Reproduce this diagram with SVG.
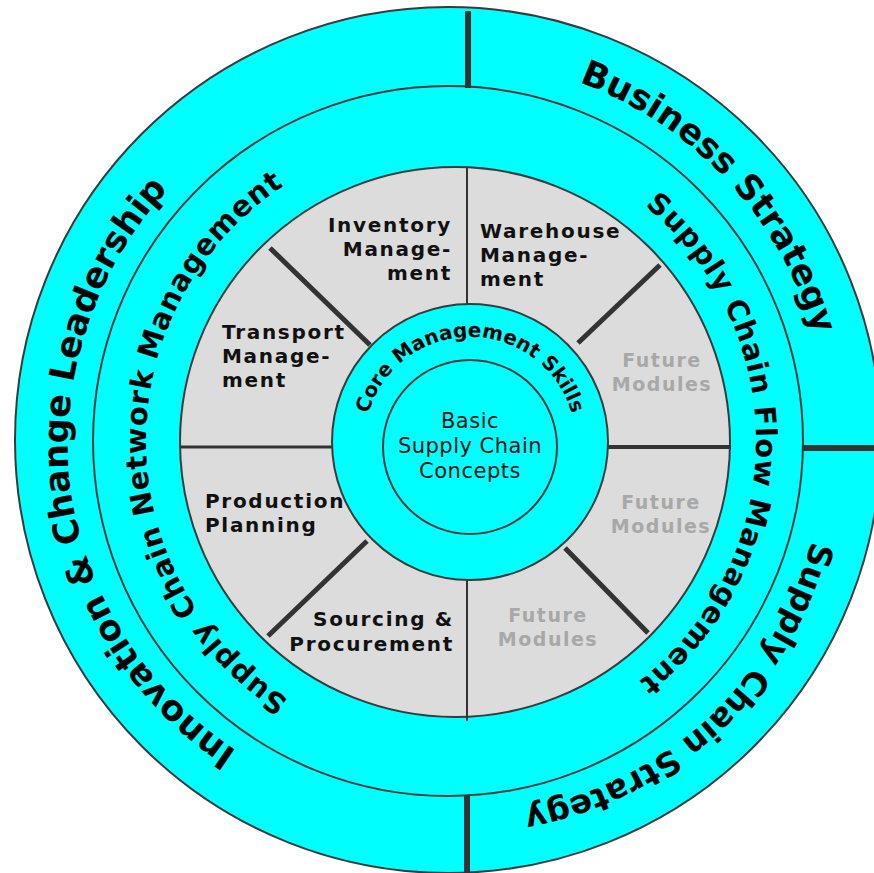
<svg xmlns="http://www.w3.org/2000/svg" xmlns:xlink="http://www.w3.org/1999/xlink" width="874" height="873" viewBox="0 0 874 873">
<style>
.ring{fill:#00ffff;stroke:#3a3a3a;stroke-width:2}
.wheel{fill:#dcdcdc;stroke:#3a3a3a;stroke-width:2}
.lbl{font-family:"DejaVu Sans","Liberation Sans",sans-serif;font-weight:bold;font-size:20px;letter-spacing:1.7px;fill:#111}
.fut{font-family:"DejaVu Sans","Liberation Sans",sans-serif;font-weight:bold;font-size:19px;letter-spacing:1.5px;fill:#a8a8a8}
.outer{font-family:"DejaVu Sans","Liberation Sans",sans-serif;font-weight:bold;font-size:35px;fill:#000}
.mid{font-family:"DejaVu Sans","Liberation Sans",sans-serif;font-weight:bold;font-size:29px;letter-spacing:0.8px;fill:#000}
.core{font-family:"DejaVu Sans","Liberation Sans",sans-serif;font-weight:bold;font-size:20px;fill:#000}
.basic{font-family:"DejaVu Sans","Liberation Sans",sans-serif;font-size:21px;letter-spacing:0.5px;fill:#111}
.div{stroke:#333;fill:none}
</style>
<defs>
<path id="pBus" d="M169.3,699.8 A381,381 0 0 1 726.7,180.2 A381,381 0 0 1 169.3,699.8"/>
<path id="pSCS" d="M188.2,161.4 A381,381 0 0 1 707.8,718.6 A381,381 0 0 1 188.2,161.4"/>
<path id="pInn" d="M826.1,393.6 A381,381 0 0 1 69.9,486.4 A381,381 0 0 1 826.1,393.6"/>
<path id="pNet" d="M756,438.3 A305,305 0 0 1 146,443.7 A305,305 0 0 1 756,438.3"/>
<path id="pFlow" d="M146,436.7 A305,305 0 0 1 756,445.3 A305,305 0 0 1 146,436.7"/>
<path id="pCore" d="M470,549 A106,106 0 0 1 470,337 A106,106 0 0 1 470,549"/>
</defs>
<g id="outer-ring">
<circle class="ring" cx="448" cy="440" r="433"/>
<text class="outer"><textPath xlink:href="#pInn" startOffset="50%" text-anchor="middle">Innovation &amp; Change Leadership</textPath></text>
<text class="outer"><textPath xlink:href="#pBus" startOffset="50%" text-anchor="middle">Business Strategy</textPath></text>
<text class="outer" style="font-size:33px"><textPath xlink:href="#pSCS" startOffset="50%" text-anchor="middle">Supply Chain Strategy</textPath></text>
</g>
<g id="middle-ring">
<circle class="ring" cx="448" cy="441" r="355"/>
<text class="mid"><textPath xlink:href="#pNet" startOffset="50%" text-anchor="middle">Supply Chain Network Management</textPath></text>
<text class="mid"><textPath xlink:href="#pFlow" startOffset="50%" text-anchor="middle">Supply Chain Flow Management</textPath></text>
</g>
<g id="module-wheel">
<circle class="wheel" cx="455" cy="442" r="275"/>
</g>
<g id="connectors">
<line class="div" x1="468" y1="11" x2="468" y2="88" stroke-width="6"/>
<line class="div" x1="467" y1="795" x2="467" y2="873" stroke-width="6"/>
<line class="div" x1="803" y1="448" x2="874" y2="448" stroke-width="6"/>
<line class="div" x1="467" y1="168" x2="467" y2="306" stroke-width="2"/>
<line class="div" x1="467" y1="578" x2="467" y2="721" stroke-width="2"/>
<line class="div" x1="180" y1="447" x2="334" y2="447" stroke-width="3"/>
<line class="div" x1="606" y1="447" x2="731" y2="447" stroke-width="4"/>
<line class="div" x1="270" y1="248" x2="370" y2="345" stroke-width="5"/>
<line class="div" x1="660" y1="265" x2="578" y2="343" stroke-width="5"/>
<line class="div" x1="367" y1="541" x2="268" y2="636" stroke-width="5"/>
<line class="div" x1="565" y1="548" x2="648" y2="633" stroke-width="5"/>
</g>
<g id="inventory">
<text class="lbl" text-anchor="end"><tspan x="452" y="232">Inventory</tspan><tspan x="452" y="256">Manage-</tspan><tspan x="452" y="280">ment</tspan></text>
</g>
<g id="warehouse">
<text class="lbl"><tspan x="480" y="238">Warehouse</tspan><tspan x="480" y="262">Manage-</tspan><tspan x="480" y="286">ment</tspan></text>
</g>
<g id="transport">
<text class="lbl"><tspan x="222" y="339">Transport</tspan><tspan x="222" y="363">Manage-</tspan><tspan x="222" y="387">ment</tspan></text>
</g>
<g id="production">
<text class="lbl"><tspan x="205" y="508">Production</tspan><tspan x="205" y="532">Planning</tspan></text>
</g>
<g id="sourcing">
<text class="lbl" text-anchor="end"><tspan x="454" y="626">Sourcing &amp;</tspan><tspan x="454" y="651">Procurement</tspan></text>
</g>
<g id="future-1">
<text class="fut" text-anchor="middle"><tspan x="662" y="367">Future</tspan><tspan x="662" y="391">Modules</tspan></text>
</g>
<g id="future-2">
<text class="fut" text-anchor="middle"><tspan x="661" y="509">Future</tspan><tspan x="661" y="533">Modules</tspan></text>
</g>
<g id="future-3">
<text class="fut" text-anchor="middle"><tspan x="548" y="622">Future</tspan><tspan x="548" y="646">Modules</tspan></text>
</g>
<g id="core-skills">
<circle class="ring" cx="470" cy="442" r="138"/>
<text class="core"><textPath xlink:href="#pCore" startOffset="50%" text-anchor="middle">Core Management Skills</textPath></text>
</g>
<g id="basic-concepts">
<circle class="ring" cx="470" cy="447" r="87"/>
<text class="basic" text-anchor="middle"><tspan x="470" y="428">Basic</tspan><tspan x="470" y="453">Supply Chain</tspan><tspan x="470" y="478">Concepts</tspan></text>
</g>
</svg>
